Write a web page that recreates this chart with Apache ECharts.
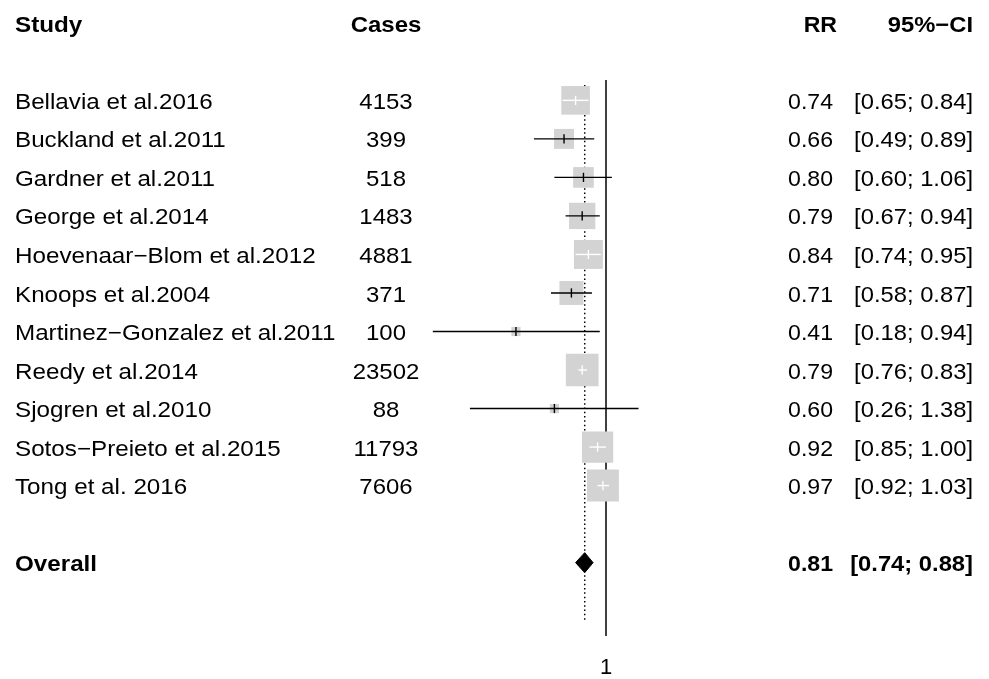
<!DOCTYPE html>
<html>
<head>
<meta charset="utf-8">
<script src="https://cdn.jsdelivr.net/npm/echarts@6/dist/echarts.min.js"></script>
<style>
  html, body { margin: 0; padding: 0; background: #fff; }
  #chart { width: 989px; height: 679px; }
</style>
</head>
<body>
<div id="chart"></div>
<script>
// ---- data ----
const headers = ['Study', 'Cases', 'RR', '95%\u2212CI'];
const studies = [
  'Bellavia et al.2016',
  'Buckland et al.2011',
  'Gardner et al.2011',
  'George et al.2014',
  'Hoevenaar\u2212Blom et al.2012',
  'Knoops et al.2004',
  'Martinez\u2212Gonzalez et al.2011',
  'Reedy et al.2014',
  'Sjogren et al.2010',
  'Sotos\u2212Preieto et al.2015',
  'Tong et al. 2016'
];
const cases = [4153, 399, 518, 1483, 4881, 371, 100, 23502, 88, 11793, 7606];
const rr    = [0.74, 0.66, 0.80, 0.79, 0.84, 0.71, 0.41, 0.79, 0.60, 0.92, 0.97];
const lower = [0.65, 0.49, 0.60, 0.67, 0.74, 0.58, 0.18, 0.76, 0.26, 0.85, 0.92];
const upper = [0.84, 0.89, 1.06, 0.94, 0.95, 0.87, 0.94, 0.83, 1.38, 1.00, 1.03];
// study weights (%)
const weights = [11.7, 5.7, 6.1, 9.9, 12.0, 8.2, 1.2, 15.3, 1.2, 14.0, 14.6];
const overallLabel = 'Overall';
const overallRR = 0.81;
const overallLower = 0.74;
const overallUpper = 0.88;
const axisTickLabels = ['1'];

// ---- layout ----
const ROW0 = 100.5, STEP = 38.8;          // pixel y of first study row, row spacing
const GRID_TOP = 80, GRID_BOTTOM = 640;
const yMin = (GRID_TOP - ROW0) / STEP;
const yMax = (GRID_BOTTOM - ROW0) / STEP;
const OVERALL_ROW = studies.length + 1;
const HEADER_ROW = -2;
const FONT = "'Liberation Sans', Arial, Helvetica, sans-serif";
const FS = 22;
const TEXT_DY = 2.5;
const MAX_BOX = 32.7;
const maxW = Math.max.apply(null, weights);

const fmt = v => v.toFixed(2);

// table rows
const tableRows = [];
tableRows.push({ row: HEADER_ROW, bold: true, cells: headers, header: true });
studies.forEach((s, i) => {
  tableRows.push({ row: i, bold: false, cells: [s, String(cases[i]), fmt(rr[i]), '[' + fmt(lower[i]) + '; ' + fmt(upper[i]) + ']'] });
});
tableRows.push({ row: OVERALL_ROW, bold: true, cells: [overallLabel, '', fmt(overallRR), '[' + fmt(overallLower) + '; ' + fmt(overallUpper) + ']'] });

// column anchors (pixel x) and alignment
const columns = [
  { x: 15,  align: 'left',   hx: 15,  sx: 1.10 },
  { x: 386, align: 'center', hx: 386, sx: 1.09 },
  { x: 833, align: 'right',  hx: 837, sx: 1.05 },
  { x: 973, align: 'right',  hx: 973, sx: 1.08 }
];

function renderTable(params, api) {
  const r = tableRows[params.dataIndex];
  const y = api.coord([0, api.value(1)])[1] + TEXT_DY;
  const children = [];
  r.cells.forEach((t, c) => {
    if (!t) return;
    const col = columns[c];
    children.push({
      type: 'text',
      x: r.header ? col.hx : col.x,
      y: y,
      scaleX: col.sx,
      style: {
        text: t, x: 0, y: 0,
        align: col.align, verticalAlign: 'middle',
        fontFamily: FONT, fontSize: FS,
        fontWeight: r.bold ? 'bold' : 'normal',
        fill: '#000'
      }
    });
  });
  return { type: 'group', children: children };
}

function renderStudy(params, api) {
  const row = api.value(1);
  const c = api.coord([api.value(0), row]);
  const lo = api.coord([api.value(2), row]);
  const hi = api.coord([api.value(3), row]);
  const side = MAX_BOX * Math.sqrt(api.value(4) / maxW);
  const half = side / 2;
  const inside = lo[0] >= c[0] - half && hi[0] <= c[0] + half;
  const col = inside ? '#ffffff' : '#000000';
  return {
    type: 'group',
    children: [
      { type: 'rect', shape: { x: c[0] - half, y: c[1] - half, width: side, height: side },
        style: { fill: '#d3d3d3' } },
      { type: 'line', shape: { x1: lo[0], y1: c[1], x2: hi[0], y2: c[1] },
        style: { stroke: col, lineWidth: 1.4 } },
      { type: 'line', shape: { x1: c[0], y1: c[1] - 4.6, x2: c[0], y2: c[1] + 4.6 },
        style: { stroke: col, lineWidth: 1.4 } }
    ]
  };
}

function renderDiamond(params, api) {
  const row = api.value(1);
  const c = api.coord([api.value(0), row]);
  const lo = api.coord([api.value(2), row]);
  const hi = api.coord([api.value(3), row]);
  return {
    type: 'polygon',
    shape: { points: [[lo[0], c[1]], [c[0], c[1] - 10], [hi[0], c[1]], [c[0], c[1] + 10]] },
    style: { fill: '#000', stroke: '#000', lineWidth: 1 }
  };
}

const studyData = studies.map((s, i) => [Math.log(rr[i]), i, Math.log(lower[i]), Math.log(upper[i]), weights[i]]);
const lnOverall = Math.log(overallRR);

const chart = echarts.init(document.getElementById('chart'), null, { renderer: 'canvas' });
chart.setOption({
  animation: false,
  backgroundColor: '#ffffff',
  grid: { left: 404, width: 303, top: GRID_TOP, height: GRID_BOTTOM - GRID_TOP, containLabel: false },
  xAxis: {
    type: 'value', min: -2, max: 1, interval: 1,
    axisLine: { show: false }, axisTick: { show: false }, splitLine: { show: false },
    axisLabel: {
      margin: 21, fontSize: FS, fontFamily: FONT, color: '#000',
      formatter: v => (Math.abs(v) < 1e-9 ? axisTickLabels[0] : '')
    }
  },
  yAxis: { type: 'value', inverse: true, min: yMin, max: yMax, show: false },
  series: [
    {
      type: 'line', z: 1, silent: true, symbol: 'none',
      data: [[lnOverall, -0.4], [lnOverall, 13.5]],
      lineStyle: { color: '#000', width: 1.5, type: [1.5, 2.8] }
    },
    {
      type: 'custom', z: 3, silent: true,
      renderItem: renderStudy,
      data: studyData,
      markLine: {
        silent: true, symbol: 'none', z: 1,
        label: { show: false },
        lineStyle: { color: '#000', width: 1.5, type: 'solid' },
        data: [{ xAxis: 0 }]
      }
    },
    {
      type: 'custom', z: 4, silent: true,
      renderItem: renderDiamond,
      data: [[lnOverall, OVERALL_ROW, Math.log(overallLower), Math.log(overallUpper)]]
    },
    {
      type: 'custom', z: 5, silent: true,
      renderItem: renderTable,
      data: tableRows.map(r => [0, r.row])
    }
  ]
});
</script>
</body>
</html>
